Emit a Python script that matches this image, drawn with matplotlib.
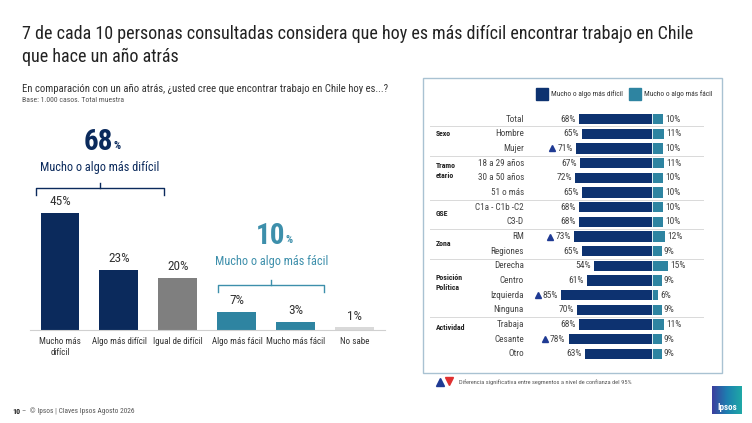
import numpy as np
import matplotlib
matplotlib.use("Agg")
import matplotlib.pyplot as plt
from matplotlib.patches import Rectangle

plt.rcParams['font.family'] = ['Roboto Condensed', 'DejaVu Sans Condensed', 'Roboto', 'DejaVu Sans']
plt.rcParams['font.stretch'] = 'condensed'

# left chart data
categories = ["Mucho más\ndifícil", "Algo más difícil", "Igual de difícil",
              "Algo más fácil", "Mucho más fácil", "No sabe"]
totals = [45, 23, 20, 7, 3, 1]
total_hard = 68
total_easy = 10

# right chart data
segments = ["Total", "Hombre", "Mujer", "18 a 29 años", "30 a 50 años", "51 o más",
            "C1a - C1b -C2", "C3-D", "RM", "Regiones", "Derecha", "Centro",
            "Izquierda", "Ninguna", "Trabaja", "Cesante", "Otro"]
hard = [68, 65, 71, 67, 72, 65, 68, 68, 73, 65, 54, 61, 85, 70, 68, 78, 63]
easy = [10, 11, 10, 11, 10, 10, 10, 10, 12, 9, 15, 9, 6, 9, 11, 9, 9]
signif_up = ["Mujer", "RM", "Izquierda", "Cesante"]
groups = [("Sexo", 1.0), ("Tramo\netario", 3.5), ("GSE", 6.4), ("Zona", 8.5),
          ("Posición\nPolítica", 11.1), ("Actividad", 14.2)]
group_breaks = [0.5, 2.5, 5.5, 7.5, 9.5, 13.5]

NAVY = "#0b2a5c"
NAVY_R = "#0d3270"
TEAL = "#2e84a1"
TEAL_TXT = "#3d8fab"
GRAY = "#7f7f7f"
LIGHT = "#d9d9d9"

W, H = 752, 423
fig = plt.figure(figsize=(W / 100, H / 100), dpi=100)


def axes_px(left, top, right, bottom):
    return fig.add_axes([left / W, 1 - bottom / H, (right - left) / W, (bottom - top) / H])


# overlay in pixel coordinates for titles and decorations
ov = axes_px(0, 0, W, H)
ov.set_xlim(0, W)
ov.set_ylim(H, 0)
ov.axis("off")
ov.set_zorder(5)
ov.patch.set_alpha(0)

ov.text(22, 34, "7 de cada 10 personas consultadas considera que hoy es más difícil encontrar trabajo en Chile",
        fontsize=13.0, color="#222222", va="center")
ov.text(22, 57, "que hace un año atrás", fontsize=13.0, color="#222222", va="center")
ov.text(22, 89, "En comparación con un año atrás, ¿usted cree que encontrar trabajo en Chile hoy es...?",
        fontsize=7.7, color="#333333", va="center")
ov.text(22, 100, "Base: 1.000 casos. Total muestra", fontsize=5.6, color="#555555", va="center")

# left bar chart
ax = axes_px(30, 190, 385, 330)
x = np.arange(len(categories))
colors = [NAVY, NAVY, GRAY, TEAL, TEAL, LIGHT]
ax.bar(x, totals, width=0.66, color=colors)
for xi, v in zip(x, totals):
    ax.annotate(f"{v}%", (xi, v), xytext=(0, 3.5), textcoords="offset points",
                ha="center", va="bottom", fontsize=9.5, color="#333333")
ax.set_xlim(-0.508, 5.51)
ax.set_ylim(0, 53.8)
ax.set_xticks(x)
ax.set_xticklabels(categories, fontsize=6.5, color="#333333", linespacing=1.25)
ax.tick_params(axis="x", length=0, pad=5)
ax.set_yticks([])
for s in ["top", "right", "left"]:
    ax.spines[s].set_visible(False)
ax.spines["bottom"].set_color("#d0d0d0")
ax.spines["bottom"].set_linewidth(0.8)
ax.patch.set_alpha(0)


def big_pct(xc, yc, value, color, label, ly):
    ov.text(xc + 13, yc, f"{value}", fontsize=21, fontweight="bold", color=color,
            ha="right", va="center")
    ov.text(xc + 14, yc + 4, "%", fontsize=8, fontweight="bold", color=color,
            ha="left", va="center")
    ov.text(xc, ly, label, fontsize=8.8, color=color, ha="center", va="center")


def bracket(x0, x1, y, color):
    xm = (x0 + x1) / 2
    ov.plot([x0, x0, x1, x1], [y + 7, y, y, y + 7], color=color, lw=1)
    ov.plot([xm, xm], [y, y - 5], color=color, lw=1)


big_pct(100, 142, total_hard, NAVY, "Mucho o algo más difícil", 168)
bracket(36, 164, 188, NAVY)
big_pct(272, 236, total_easy, TEAL_TXT, "Mucho o algo más fácil", 262)
bracket(218, 324, 285, TEAL_TXT)

# right panel frame
ov.add_patch(Rectangle((423, 78), 299, 295, fill=False, edgecolor="#a9c2d2", lw=1))
ov.add_patch(Rectangle((536, 88), 12, 12, color=NAVY_R))
ov.text(551, 94, "Mucho o algo más difícil", fontsize=5.3, color="#333333", va="center")
ov.add_patch(Rectangle((629, 88), 12, 12, color=TEAL))
ov.text(644, 94, "Mucho o algo más fácil", fontsize=5.3, color="#333333", va="center")

# right bar chart
PXU = 1.07
rx = axes_px(430, 108, 720, 365)
rx.set_xlim(-(652 - 430) / PXU, (720 - 652) / PXU)
y = np.arange(len(segments))
rx.set_ylim(len(segments) - 1 + 0.75, -0.75)
rx.barh(y, [-v for v in hard], height=0.7, color=NAVY_R)
rx.barh(y, easy, height=0.7, color=TEAL)
rx.axvline(0, color="white", lw=0.6)
label_x = -(652 - 524) / PXU
group_x = -(652 - 436) / PXU
for yi, name, h, e in zip(y, segments, hard, easy):
    rx.text(label_x, yi, name, ha="right", va="center", fontsize=6.6, color="#444444")
    rx.text(-h - 3, yi, f"{h}%", ha="right", va="center", fontsize=6.8, color="#444444")
    rx.text(e + 2, yi, f"{e}%", ha="left", va="center", fontsize=6.8, color="#444444")
    if name in signif_up:
        rx.plot(-h - 22, yi, marker="^", color="#1f3a93", markersize=4.5)
for g, gy in groups:
    rx.text(group_x, gy, g, ha="left", va="center", fontsize=5.6, fontweight="bold",
            color="#222222", linespacing=1.5)
for b in group_breaks:
    rx.plot([group_x - 6, (703 - 652) / PXU], [b, b], color="#d9d9d9", lw=0.7)
rx.axis("off")

# significance note
ov.plot(440, 382, marker="^", color="#1f3a93", markersize=6)
ov.plot(449, 381, marker="v", color="#e03030", markersize=6)
ov.text(459, 382, "Diferencia significativa entre segmentos a nivel de confianza del 95%",
        fontsize=4.6, color="#555555", va="center")

# footer
ov.text(12, 411, "10", fontsize=5.8, fontweight="bold", color="#222222", va="center")
ov.text(22, 411, "–  © Ipsos | Claves Ipsos Agosto 2026", fontsize=5.3, color="#555555", va="center")

# logo
grad = np.linspace(0, 1, 30)[None, :]
ov.imshow(grad, extent=(712, 742, 414, 386), cmap=matplotlib.colors.LinearSegmentedColormap.from_list(
    "ip", ["#3b3f9e", "#1d7fb0", "#1fa7a6"]), aspect="auto", zorder=1)
ov.text(727, 407, "Ipsos", fontsize=6.5, fontweight="bold", color="white", ha="center", va="center", zorder=2)
ov.set_xlim(0, W)
ov.set_ylim(H, 0)

fig.savefig("out.png", dpi=100)
